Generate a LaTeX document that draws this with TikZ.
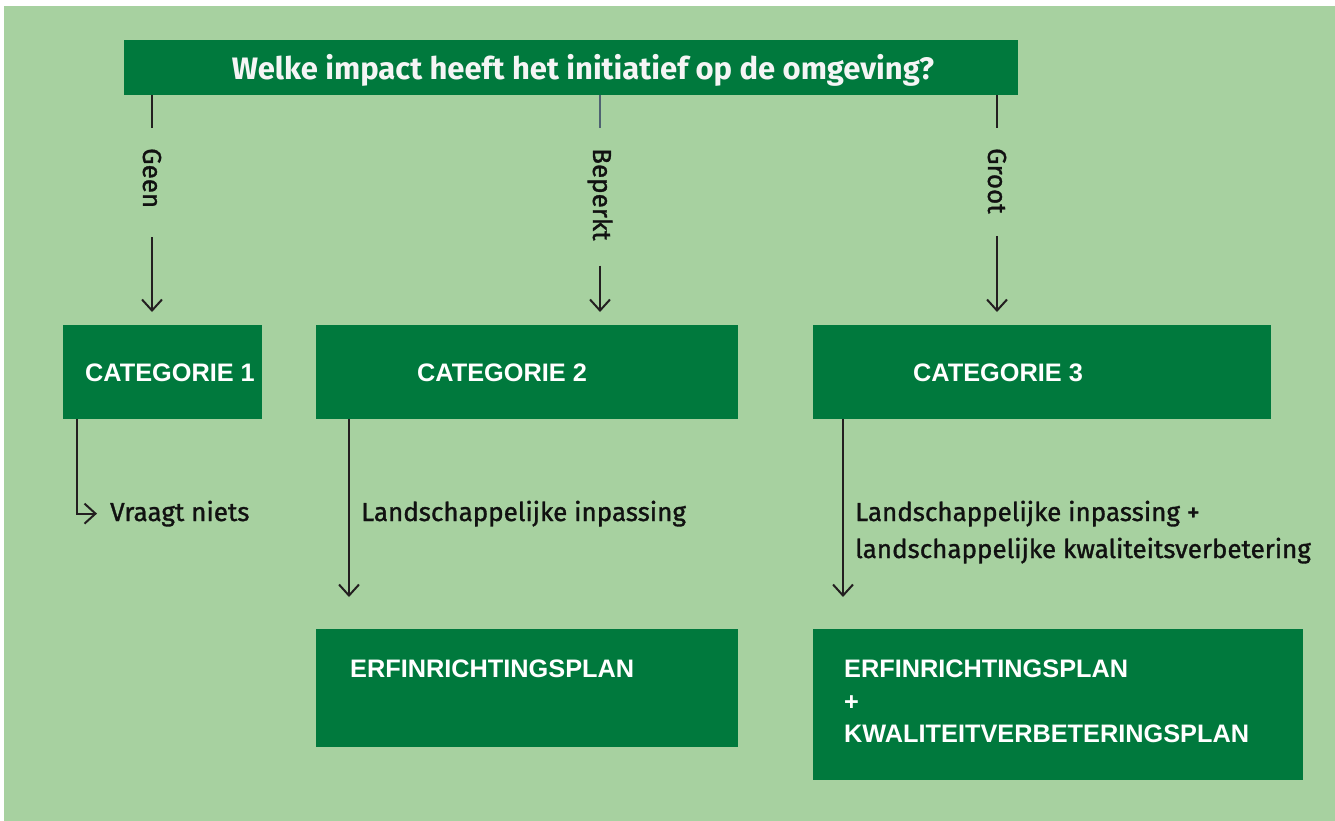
\documentclass[tikz,border=0pt]{standalone}
\usepackage{fontspec}
\setmainfont{Fira Sans}
\newfontfamily\capsfont{Liberation Sans}
\newfontfamily\bodyfont{Fira Sans}[FakeBold=1.2]
\usepackage{xcolor}
\usepackage{tikz}
\usetikzlibrary{arrows.meta, positioning}

\definecolor{bggreen}{HTML}{A7D1A0}
\definecolor{darkgreen}{HTML}{00793D}
\definecolor{inkline}{HTML}{231F20}
\definecolor{inktext}{HTML}{111111}
\definecolor{stubblue}{HTML}{4F6272}

\begin{document}
\begin{tikzpicture}[x=1pt, y=-1pt,
    box/.style={fill=darkgreen, inner sep=0, anchor=north west},
    boxtext/.style={text=white, inner sep=0, font=\capsfont\bfseries\fontsize{25.3}{32.5}\selectfont},
    lbl/.style={text=inktext, inner sep=0, font=\bodyfont\fontsize{26}{30}\selectfont},
    side/.style={lbl, rotate=-90, anchor=west},
    stem/.style={draw=inkline, line width=2pt},
    flow/.style={stem, -{Straight Barb[length=11pt, width=20pt]}}]
  \fill[white] (0, 0) rectangle (1335, 821);
  \fill[bggreen] (4, 6) rectangle (1335, 821);
  \useasboundingbox (0, 0) rectangle (1335, 821);

  % boxes
  \node[box, minimum width=894, minimum height=55] (title) at (124, 40) {};
  \node[box, minimum width=199, minimum height=94] (cat1) at (63, 325) {};
  \node[box, minimum width=422, minimum height=94] (cat2) at (316, 325) {};
  \node[box, minimum width=458, minimum height=94] (cat3) at (813, 325) {};
  \node[box, minimum width=422, minimum height=118] (erf2) at (316, 629) {};
  \node[box, minimum width=490, minimum height=151] (erf3) at (813, 629) {};

  \node[text=white!96!black, inner sep=0, font=\bfseries\fontsize{31}{36}\selectfont] (question) at (583, 70) {Welke impact heeft het initiatief op de omgeving?};
  \node[boxtext, anchor=west] (cat1txt) at (85, 373) {CATEGORIE 1};
  \node[boxtext, anchor=west] (cat2txt) at (417, 373) {CATEGORIE 2};
  \node[boxtext, anchor=west] (cat3txt) at (913, 373) {CATEGORIE 3};
  \node[boxtext, anchor=west] (erf2txt) at (350, 669) {ERFINRICHTINGSPLAN};
  \node[boxtext, anchor=north west, align=left] (erf3txt) at (844, 660) {ERFINRICHTINGSPLAN\\+\\KWALITEITVERBETERINGSPLAN};

  % answers
  \node[side] (geen) at (152, 148) {Geen};
  \node[side] (beperkt) at (600, 148) {Beperkt};
  \node[side] (groot) at (997, 148) {Groot};
  \draw[stem, shorten >=20pt] (title.south -| geen.west) -- (geen.west);
  \draw[stem, draw=stubblue, line width=1.5pt, shorten >=20pt] (title.south -| beperkt.west) -- (beperkt.west);
  \draw[stem, shorten >=20pt] (title.south -| groot.west) -- (groot.west);
  \draw[flow, shorten <=29pt, shorten >=13pt] (geen.east) -- (geen.east |- cat1.north);
  \draw[flow, shorten <=25pt, shorten >=13pt] (beperkt.east) -- (beperkt.east |- cat2.north);
  \draw[flow, shorten <=22pt, shorten >=13pt] (groot.east) -- (groot.east |- cat3.north);

  % what each category asks
  \node[lbl, anchor=base west] (niets) at (110, 521) {Vraagt niets};
  \node[lbl, anchor=base west] (inpas2) at (361, 521) {Landschappelijke inpassing};
  \node[lbl, anchor=base west] (inpas3) at (855, 521) {Landschappelijke inpassing +};
  \node[lbl, anchor=base west] (kwal3) at (855, 558) {landschappelijke kwaliteitsverbetering};
  \draw[flow, shorten >=13pt] ([xshift=14pt]cat1.south west) |- (niets.west);
  \draw[flow, shorten >=32pt] ([xshift=33pt]cat2.south west) -- ([xshift=33pt]erf2.north west);
  \draw[flow, shorten >=32pt] ([xshift=30pt]cat3.south west) -- ([xshift=30pt]erf3.north west);
\end{tikzpicture}
\end{document}
